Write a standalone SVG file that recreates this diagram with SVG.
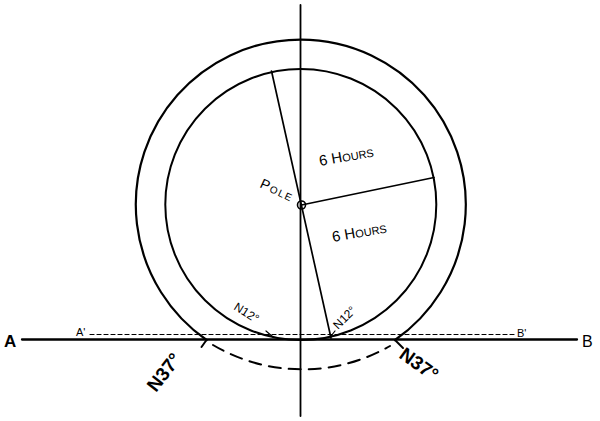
<svg xmlns="http://www.w3.org/2000/svg" width="600" height="421" viewBox="0 0 600 421">
<style>
.ln{stroke:#000;fill:none;stroke-linecap:round}
.t{font-family:"Liberation Sans",Arial,sans-serif;fill:#000}
.sc{font-variant:small-caps}
</style>
<rect width="600" height="421" fill="#fff"/>
<g id="outer-circle"><path class="ln" d="M206.6 340 A165 165 0 1 1 395 340" stroke-width="2.2"/></g>
<g id="inner-circle"><circle class="ln" cx="300.8" cy="204.5" r="135.5" stroke-width="2"/></g>
<g id="connectors">
<line class="ln" x1="300.5" y1="5" x2="300.5" y2="416" stroke-width="1.8"/>
<line class="ln" x1="22" y1="339.5" x2="577" y2="339.5" stroke-width="2.3"/>
<line class="ln" x1="90" y1="334.5" x2="514" y2="334.5" stroke-width="1.2" stroke-dasharray="4 3"/>
<line class="ln" x1="271.5" y1="71" x2="331" y2="338" stroke-width="1.7"/>
<line class="ln" x1="301.5" y1="205" x2="434" y2="177.5" stroke-width="1.7"/>
<path class="ln" d="M213 345 A176 176 0 0 0 390 346" stroke-width="2" stroke-dasharray="12 8"/>
<line class="ln" x1="206.5" y1="340" x2="201.5" y2="347" stroke-width="2"/>
<line class="ln" x1="395" y1="340" x2="403" y2="348" stroke-width="2"/>
<line class="ln" x1="266" y1="331" x2="273" y2="337" stroke-width="1.2"/>
<line class="ln" x1="335" y1="331" x2="331" y2="336" stroke-width="1.2"/>
</g>
<g id="pole"><circle cx="301.5" cy="205" r="4" fill="none" stroke="#000" stroke-width="1.6"/>
<text class="t sc" font-size="14" letter-spacing="1.5" transform="translate(259,187) rotate(25)">Pole</text></g>
<g id="hours-1"><text class="t sc" font-size="15" transform="translate(320,166) rotate(-10)">6 Hours</text></g>
<g id="hours-2"><text class="t sc" font-size="15" transform="translate(333,242) rotate(-10)">6 Hours</text></g>
<g id="n12-left"><text class="t" font-size="12" transform="translate(233,309) rotate(32)">N12°</text></g>
<g id="n12-right"><text class="t" font-size="12" transform="translate(338,330) rotate(-45)">N12°</text></g>
<g id="n37-left"><text class="t" font-size="19" font-weight="bold" transform="translate(156,393) rotate(-52)">N37°</text></g>
<g id="n37-right"><text class="t" font-size="19" font-weight="bold" transform="translate(398,357) rotate(36)">N37°</text></g>
<g id="label-A"><text class="t" font-size="17" font-weight="bold" x="4" y="347">A</text></g>
<g id="label-B"><text class="t" font-size="16" x="582" y="347">B</text></g>
<g id="label-A2"><text class="t" font-size="11" x="76" y="336">A'</text></g>
<g id="label-B2"><text class="t" font-size="11" x="517" y="337">B'</text></g>
</svg>
